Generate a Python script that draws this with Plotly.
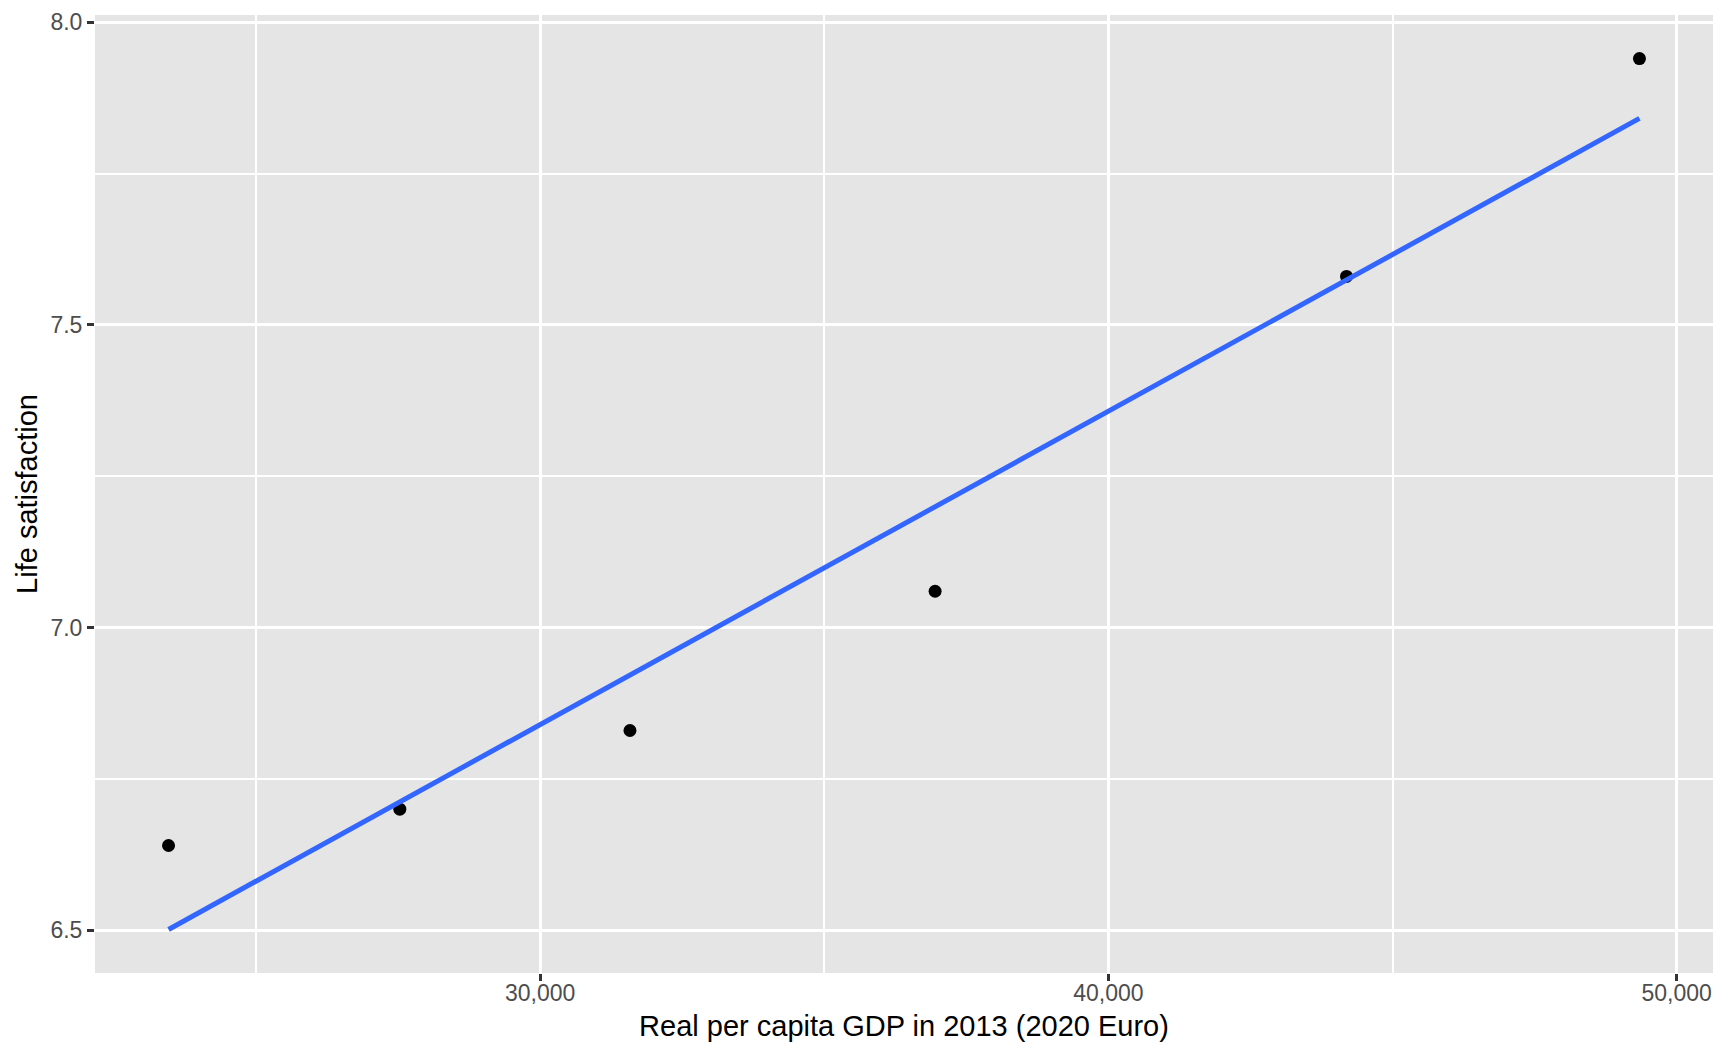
import numpy as np
import plotly.graph_objects as go

# Data
gdp = [23460, 27530, 31580, 36950, 44190, 49345]
life_sat = [6.64, 6.70, 6.83, 7.06, 7.58, 7.94]

x_major = [30000, 40000, 50000]
x_major_labels = ['30,000', '40,000', '50,000']
x_minor = [25000, 35000, 45000]
y_major = [6.5, 7.0, 7.5, 8.0]
y_major_labels = ['6.5', '7.0', '7.5', '8.0']
y_minor = [6.75, 7.25, 7.75]

## linear fit (geom_smooth(method = "lm") equivalent)
slope, intercept = np.polyfit(gdp, life_sat, 1)
fit_x = [min(gdp), max(gdp)]
fit_y = [slope * v + intercept for v in fit_x]

def expand(lo, hi, frac=0.05):
	pad = (hi - lo) * frac
	return [lo - pad, hi + pad]

x_range = expand(min(gdp), max(gdp))
y_range = expand(min(life_sat + fit_y), max(life_sat + fit_y))

font_family = 'Liberation Sans, Arial, Helvetica, sans-serif'

fig = go.Figure()
fig.add_trace(go.Scatter(x=gdp, y=life_sat,
	mode='markers',
	marker=dict(color='black', size=13),
	name='data',
	showlegend=False))
fig.add_trace(go.Scatter(x=fit_x, y=fit_y,
	mode='lines',
	line=dict(color='#3366FF', width=5),
	name='fit',
	showlegend=False))

axis_common = dict(
	automargin=False,
	showline=False,
	zeroline=False,
	showgrid=True,
	gridcolor='white',
	gridwidth=3,
	ticks='outside',
	ticklen=7,
	tickwidth=2.5,
	tickcolor='#333333',
	tickfont=dict(family=font_family, size=23, color='#4D4D4D'),
)

## page body keeps its 8px default margin, so the figure is sized to fit inside it
fig.update_layout(
	width=1712,
	height=1040,
	margin=dict(l=87, r=7, t=7, b=75),
	paper_bgcolor='white',
	plot_bgcolor='#E5E5E5',
	font=dict(family=font_family, color='black'),
	xaxis=dict(axis_common,
		range=x_range,
		tickvals=x_major,
		ticktext=x_major_labels,
		ticklabelstandoff=-8,
		minor=dict(tickvals=x_minor, showgrid=True, gridcolor='white', gridwidth=1.5, ticks=''),
		title=dict(text='Real per capita GDP in 2013 (2020 Euro)',
			font=dict(family=font_family, size=29, color='black'), standoff=11)),
	yaxis=dict(axis_common,
		range=y_range,
		tickvals=y_major,
		ticktext=y_major_labels,
		minor=dict(tickvals=y_minor, showgrid=True, gridcolor='white', gridwidth=1.5, ticks=''),
		title=dict(text='Life satisfaction',
			font=dict(family=font_family, size=29, color='black'), standoff=4)),
)

fig.write_html("out.html")
